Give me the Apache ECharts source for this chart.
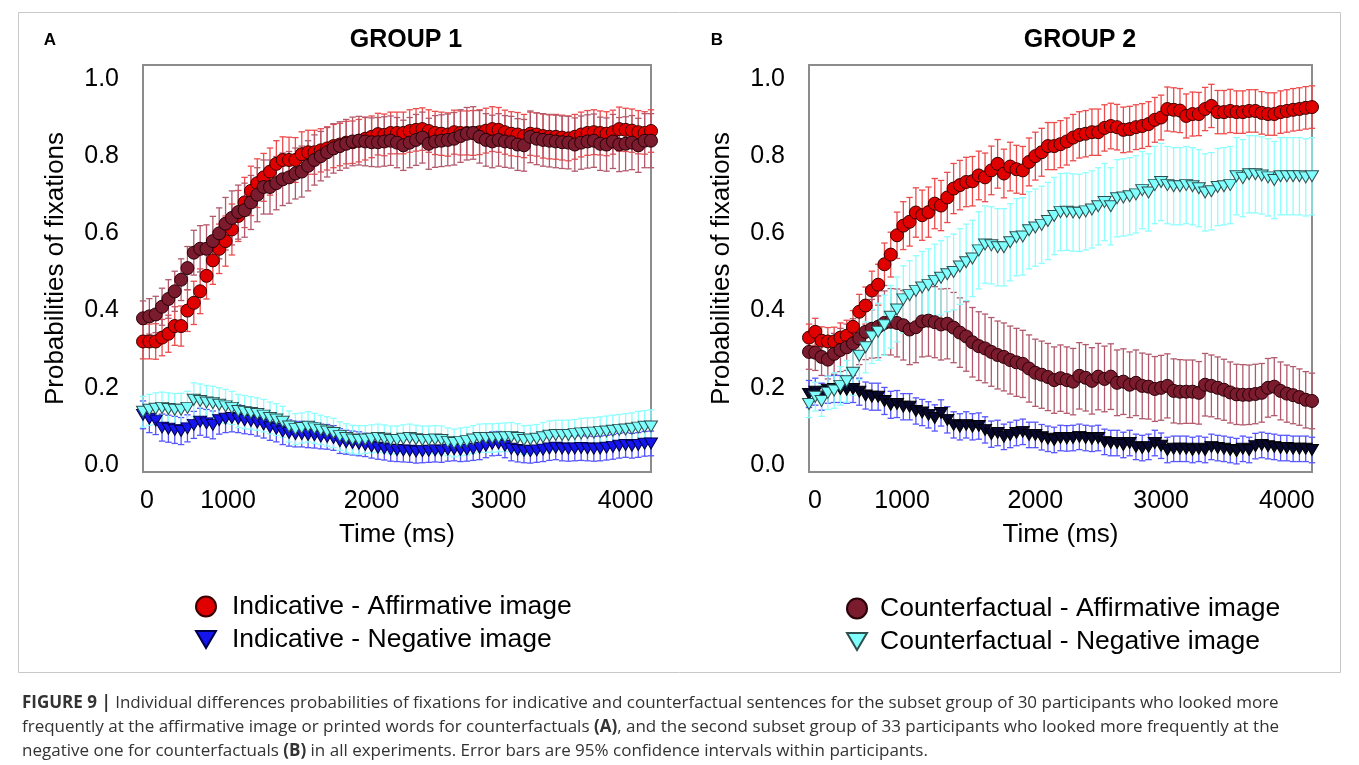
<!DOCTYPE html>
<html><head><meta charset="utf-8">
<script src="https://cdn.jsdelivr.net/npm/echarts@6/dist/echarts.min.js"></script>
<style>html,body{margin:0;padding:0;background:#fff}#c{width:1359px;height:765px}</style>
</head><body><div id="c"></div>
<script>
const times = [200,250,300,350,400,450,500,550,600,650,700,750,800,850,900,950,1000,1050,1100,1150,1200,1250,1300,1350,1400,1450,1500,1550,1600,1650,1700,1750,1800,1850,1900,1950,2000,2050,2100,2150,2200,2250,2300,2350,2400,2450,2500,2550,2600,2650,2700,2750,2800,2850,2900,2950,3000,3050,3100,3150,3200,3250,3300,3350,3400,3450,3500,3550,3600,3650,3700,3750,3800,3850,3900,3950,4000,4050,4100,4150,4200];
const xTickValues = [200, 1000, 2000, 3000, 4000];
const yTickValues = [0, 0.2, 0.4, 0.6, 0.8, 1.0];

// GROUP 1 (panel A)
const a_indAff = [0.32,0.32,0.32,0.33,0.34,0.36,0.36,0.40,0.42,0.45, 0.49,0.53,0.56,0.58,0.61,0.645,0.68,0.71,0.73,0.745, 0.76,0.78,0.79,0.79,0.79,0.805,0.81,0.81,0.815,0.82, 0.826,0.83,0.835,0.836,0.84,0.845,0.85,0.857,0.855,0.86, 0.86,0.86,0.865,0.868,0.87,0.865,0.86,0.858,0.856,0.862, 0.86,0.86,0.86,0.862,0.866,0.87,0.868,0.862,0.858,0.856, 0.852,0.858,0.856,0.852,0.85,0.85,0.848,0.846,0.85,0.856, 0.86,0.862,0.86,0.858,0.862,0.87,0.868,0.866,0.862,0.86,0.865];
const a_indAffErr = [0.045,0.045,0.046,0.047,0.048,0.05,0.052,0.054,0.056,0.058, 0.06,0.062,0.064,0.065,0.066,0.066,0.065,0.064,0.063,0.062, 0.061,0.06,0.06,0.059,0.058,0.058,0.057,0.057,0.056,0.056, 0.056,0.055,0.055,0.055,0.055,0.055,0.054,0.054,0.054,0.054, 0.054,0.054,0.055,0.055,0.055,0.055,0.056,0.056,0.056,0.057, 0.057,0.057,0.058,0.058,0.058,0.058,0.058,0.057,0.057,0.057, 0.056,0.056,0.056,0.057,0.057,0.058,0.058,0.058,0.058,0.058, 0.058,0.058,0.057,0.057,0.057,0.057,0.056,0.056,0.056,0.055,0.055];
const a_cfAff = [0.38,0.385,0.39,0.41,0.43,0.45,0.48,0.51,0.55,0.56, 0.56,0.58,0.60,0.625,0.64,0.655,0.66,0.68,0.70,0.72, 0.72,0.73,0.74,0.745,0.755,0.76,0.775,0.79,0.80,0.81, 0.82,0.826,0.832,0.838,0.84,0.838,0.836,0.836,0.838,0.84, 0.835,0.828,0.835,0.842,0.848,0.832,0.838,0.84,0.842,0.845, 0.852,0.858,0.86,0.85,0.842,0.838,0.842,0.838,0.836,0.83, 0.828,0.85,0.845,0.842,0.84,0.838,0.836,0.835,0.83,0.835, 0.838,0.84,0.832,0.83,0.838,0.83,0.832,0.835,0.828,0.84,0.84];
const a_cfAffErr = [0.045,0.046,0.047,0.048,0.05,0.052,0.054,0.056,0.058,0.06, 0.062,0.064,0.066,0.068,0.07,0.07,0.07,0.07,0.07,0.07, 0.07,0.069,0.068,0.067,0.066,0.066,0.065,0.065,0.064,0.064, 0.064,0.063,0.063,0.063,0.063,0.063,0.063,0.064,0.064,0.064, 0.065,0.065,0.065,0.066,0.066,0.066,0.067,0.067,0.067,0.068, 0.068,0.068,0.068,0.068,0.068,0.068,0.068,0.067,0.067,0.067, 0.067,0.067,0.067,0.068,0.068,0.068,0.068,0.068,0.069,0.069, 0.069,0.069,0.069,0.069,0.07,0.07,0.07,0.07,0.07,0.07,0.07];
const a_indNeg = [0.13,0.12,0.115,0.097,0.094,0.091,0.088,0.095,0.104,0.112, 0.108,0.104,0.116,0.12,0.122,0.12,0.116,0.114,0.11,0.105, 0.098,0.094,0.087,0.083,0.08,0.08,0.078,0.077,0.074,0.073, 0.07,0.062,0.059,0.057,0.055,0.052,0.048,0.045,0.043,0.04, 0.039,0.038,0.037,0.035,0.036,0.037,0.038,0.037,0.04,0.041, 0.039,0.04,0.042,0.045,0.05,0.055,0.056,0.05,0.042,0.039, 0.037,0.036,0.038,0.04,0.043,0.045,0.043,0.042,0.043,0.044, 0.043,0.042,0.043,0.045,0.047,0.05,0.052,0.05,0.052,0.055,0.056];
const a_indNegErr = [0.036,0.036,0.036,0.035,0.035,0.035,0.035,0.035,0.035,0.035, 0.036,0.036,0.036,0.036,0.036,0.036,0.035,0.035,0.035,0.035, 0.034,0.034,0.034,0.034,0.033,0.033,0.033,0.033,0.032,0.032, 0.032,0.032,0.031,0.031,0.031,0.03,0.03,0.03,0.03,0.03, 0.03,0.03,0.03,0.03,0.03,0.03,0.03,0.03,0.03,0.03, 0.03,0.03,0.03,0.031,0.031,0.031,0.031,0.031,0.031,0.031, 0.031,0.031,0.031,0.031,0.031,0.031,0.032,0.032,0.032,0.032, 0.032,0.032,0.032,0.032,0.032,0.032,0.032,0.032,0.032,0.032,0.032];
const a_cfNeg = [0.138,0.143,0.146,0.148,0.145,0.143,0.143,0.148,0.169,0.166, 0.162,0.16,0.156,0.152,0.148,0.14,0.137,0.135,0.132,0.128, 0.122,0.118,0.112,0.1,0.093,0.096,0.099,0.095,0.091,0.087, 0.083,0.075,0.07,0.066,0.065,0.066,0.068,0.07,0.068,0.065, 0.065,0.068,0.07,0.067,0.065,0.065,0.066,0.065,0.06,0.057, 0.06,0.062,0.066,0.07,0.07,0.07,0.071,0.072,0.073,0.07, 0.065,0.066,0.068,0.072,0.076,0.078,0.078,0.078,0.08,0.082, 0.083,0.084,0.086,0.087,0.089,0.091,0.092,0.094,0.097,0.099,0.10];
const a_cfNegErr = [0.04,0.04,0.041,0.041,0.042,0.042,0.043,0.043,0.044,0.044, 0.044,0.044,0.044,0.044,0.043,0.043,0.043,0.042,0.042,0.042, 0.041,0.041,0.04,0.04,0.04,0.039,0.039,0.039,0.038,0.038, 0.038,0.037,0.037,0.037,0.037,0.036,0.036,0.036,0.036,0.036, 0.036,0.036,0.036,0.036,0.036,0.036,0.036,0.036,0.036,0.036, 0.036,0.036,0.036,0.036,0.037,0.037,0.037,0.037,0.037,0.037, 0.037,0.037,0.037,0.038,0.038,0.038,0.038,0.038,0.038,0.039, 0.039,0.039,0.039,0.04,0.04,0.04,0.041,0.041,0.042,0.042,0.043];

// GROUP 2 (panel B)
const b_indAff = [0.33,0.345,0.322,0.32,0.32,0.33,0.335,0.358,0.397,0.413, 0.452,0.467,0.52,0.545,0.595,0.62,0.63,0.654,0.647,0.655, 0.677,0.672,0.693,0.716,0.725,0.733,0.735,0.75,0.745,0.763, 0.78,0.755,0.773,0.766,0.763,0.785,0.80,0.81,0.826,0.826, 0.831,0.838,0.848,0.855,0.858,0.862,0.862,0.873,0.878,0.875, 0.868,0.87,0.875,0.878,0.883,0.894,0.90,0.922,0.92,0.918, 0.904,0.909,0.909,0.922,0.93,0.914,0.914,0.917,0.914,0.914, 0.917,0.917,0.912,0.909,0.909,0.914,0.917,0.92,0.922,0.925,0.927];
const b_indAffErr = [0.035,0.035,0.036,0.036,0.037,0.038,0.04,0.042,0.045,0.048, 0.05,0.053,0.055,0.058,0.06,0.062,0.063,0.064,0.065,0.065, 0.065,0.065,0.065,0.065,0.064,0.064,0.064,0.063,0.063,0.063, 0.063,0.063,0.063,0.062,0.062,0.062,0.062,0.062,0.061,0.061, 0.061,0.061,0.06,0.06,0.06,0.06,0.06,0.06,0.059,0.059, 0.059,0.059,0.058,0.058,0.058,0.058,0.058,0.057,0.057,0.057, 0.057,0.057,0.056,0.056,0.056,0.056,0.056,0.056,0.055,0.055, 0.055,0.055,0.055,0.055,0.055,0.055,0.055,0.055,0.055,0.055,0.055];
const b_cfAff = [0.293,0.291,0.28,0.273,0.288,0.298,0.305,0.315,0.328,0.345, 0.353,0.358,0.368,0.371,0.368,0.362,0.351,0.357,0.372,0.374, 0.37,0.364,0.366,0.356,0.343,0.333,0.318,0.308,0.302,0.293, 0.285,0.28,0.272,0.266,0.262,0.25,0.239,0.234,0.228,0.22, 0.225,0.22,0.216,0.231,0.226,0.218,0.229,0.223,0.229,0.213, 0.216,0.208,0.213,0.205,0.203,0.197,0.2,0.205,0.192,0.19, 0.19,0.19,0.187,0.208,0.205,0.2,0.195,0.188,0.183,0.182, 0.182,0.184,0.187,0.2,0.203,0.192,0.185,0.181,0.176,0.169,0.166];
const b_cfAffErr = [0.045,0.046,0.048,0.05,0.053,0.056,0.06,0.064,0.068,0.072, 0.076,0.08,0.083,0.086,0.088,0.09,0.091,0.092,0.092,0.092, 0.092,0.092,0.091,0.091,0.09,0.09,0.09,0.089,0.089,0.089, 0.088,0.088,0.088,0.088,0.087,0.087,0.087,0.087,0.087,0.086, 0.086,0.086,0.086,0.086,0.086,0.086,0.086,0.085,0.085,0.085, 0.085,0.085,0.085,0.085,0.084,0.084,0.084,0.083,0.083,0.083, 0.082,0.082,0.081,0.081,0.08,0.08,0.079,0.079,0.078,0.078, 0.077,0.077,0.076,0.076,0.075,0.075,0.074,0.074,0.073,0.073,0.072];
const b_indNeg = [0.184,0.19,0.177,0.195,0.197,0.197,0.195,0.197,0.19,0.18, 0.177,0.177,0.166,0.156,0.158,0.151,0.151,0.14,0.136,0.13, 0.122,0.135,0.117,0.104,0.099,0.104,0.099,0.101,0.091,0.08, 0.083,0.073,0.078,0.083,0.086,0.078,0.078,0.072,0.068,0.065, 0.07,0.069,0.07,0.073,0.07,0.068,0.07,0.06,0.057,0.057, 0.052,0.057,0.047,0.044,0.047,0.057,0.05,0.039,0.042,0.042, 0.042,0.039,0.042,0.039,0.047,0.044,0.042,0.039,0.036,0.042, 0.039,0.049,0.052,0.049,0.047,0.044,0.044,0.042,0.042,0.042,0.039];
const b_indNegErr = [0.035,0.035,0.035,0.035,0.035,0.035,0.035,0.035,0.035,0.035, 0.035,0.035,0.035,0.035,0.035,0.034,0.034,0.034,0.034,0.034, 0.034,0.034,0.034,0.034,0.034,0.034,0.034,0.034,0.034,0.034, 0.033,0.033,0.033,0.033,0.033,0.033,0.033,0.033,0.033,0.033, 0.033,0.033,0.033,0.033,0.033,0.033,0.033,0.033,0.033,0.033, 0.033,0.033,0.033,0.033,0.033,0.033,0.033,0.033,0.033,0.033, 0.033,0.033,0.033,0.033,0.033,0.033,0.033,0.033,0.033,0.033, 0.033,0.033,0.033,0.033,0.033,0.033,0.033,0.033,0.033,0.033,0.033];
const b_cfNeg = [0.158,0.177,0.166,0.187,0.193,0.205,0.217,0.239,0.283,0.305, 0.333,0.345,0.362,0.384,0.403,0.429,0.44,0.451,0.46,0.466, 0.477,0.485,0.494,0.5,0.514,0.525,0.535,0.556,0.571,0.569, 0.564,0.564,0.577,0.59,0.592,0.608,0.615,0.622,0.632,0.645, 0.655,0.656,0.654,0.653,0.657,0.662,0.67,0.681,0.67,0.691, 0.693,0.696,0.701,0.712,0.706,0.725,0.733,0.725,0.722,0.722, 0.725,0.722,0.717,0.706,0.709,0.72,0.722,0.725,0.748,0.743, 0.753,0.753,0.75,0.745,0.738,0.748,0.748,0.748,0.748,0.745,0.748];
const b_cfNegErr = [0.035,0.037,0.04,0.043,0.046,0.05,0.054,0.058,0.062,0.066, 0.07,0.074,0.078,0.081,0.084,0.087,0.089,0.091,0.093,0.094, 0.095,0.096,0.097,0.098,0.098,0.099,0.099,0.1,0.1,0.1, 0.1,0.1,0.1,0.1,0.1,0.1,0.1,0.1,0.1,0.1, 0.1,0.1,0.1,0.1,0.1,0.1,0.1,0.1,0.1,0.1, 0.1,0.1,0.1,0.1,0.1,0.1,0.1,0.1,0.1,0.1, 0.1,0.1,0.1,0.1,0.1,0.1,0.1,0.1,0.1,0.1, 0.1,0.1,0.1,0.1,0.1,0.1,0.1,0.1,0.1,0.1,0.1];

const NAMES = {
  indAff: 'Indicative - Affirmative image',
  indNeg: 'Indicative - Negative image',
  cfAff: 'Counterfactual - Affirmative image',
  cfNeg: 'Counterfactual - Negative image'
};
const FONT = "'Liberation Sans', Arial, Helvetica, sans-serif";
const CAPFONT = "'Open Sans', 'Liberation Sans', Arial, sans-serif";
const DOWN_TRI = 'path://M0,0 L20,0 L10,17 Z';

const chart = echarts.init(document.getElementById('c'), null, {renderer: 'canvas'});

function pts(vals) { return times.map((t, i) => [t, vals[i]]); }
function errData(vals, errs) { return times.map((t, i) => [t, vals[i] - errs[i], vals[i] + errs[i]]); }

function errSeries(idx, vals, errs, color) {
  return {
    type: 'custom', xAxisIndex: idx, yAxisIndex: idx, z: 1, silent: true,
    data: errData(vals, errs),
    encode: {x: 0, y: [1, 2]},
    renderItem: function (params, api) {
      const x = api.value(0);
      const lo = api.coord([x, api.value(1)]);
      const hi = api.coord([x, api.value(2)]);
      const h = 3.2;
      const st = {stroke: color, lineWidth: 1.3};
      return {type: 'group', children: [
        {type: 'line', shape: {x1: lo[0], y1: lo[1], x2: hi[0], y2: hi[1]}, style: st},
        {type: 'line', shape: {x1: lo[0] - h, y1: lo[1], x2: lo[0] + h, y2: lo[1]}, style: st},
        {type: 'line', shape: {x1: hi[0] - h, y1: hi[1], x2: hi[0] + h, y2: hi[1]}, style: st}
      ]};
    }
  };
}
function markSeries(idx, name, vals, kind, fill, border) {
  const tri = kind === 'tri';
  return {
    type: 'scatter', name: name, xAxisIndex: idx, yAxisIndex: idx, z: 3, clip: false,
    data: pts(vals),
    symbol: tri ? 'triangle' : 'circle',
    symbolRotate: tri ? 180 : 0,
    symbolSize: tri ? [13, 11] : 13,
    itemStyle: {color: fill, borderColor: border, borderWidth: 1, opacity: 1},
    emphasis: {disabled: true}
  };
}

function xAxisCfg(idx, pad0, pad1000) {
  return {
    type: 'value', gridIndex: idx, min: 200, max: 4200,
    axisLine: {show: false}, axisTick: {show: false}, splitLine: {show: false},
    name: 'Time (ms)', nameLocation: 'middle', nameGap: 50,
    nameTextStyle: {fontFamily: FONT, fontSize: 26, color: '#000'},
    axisLabel: {
      customValues: xTickValues, margin: 17, fontFamily: FONT, fontSize: 25, color: '#000',
      showMinLabel: true, showMaxLabel: true, hideOverlap: false,
      formatter: function (v) {
        if (v === 200) return '{a|0}';
        if (v === 1000) return '{b|1000}';
        return String(v);
      },
      rich: {
        a: {fontFamily: FONT, fontSize: 25, color: '#000', padding: [0, 0, 0, pad0]},
        b: {fontFamily: FONT, fontSize: 25, color: '#000', padding: [0, pad1000, 0, 0]}
      }
    }
  };
}
function yAxisCfg(idx) {
  return {
    type: 'value', gridIndex: idx, min: -0.018, max: 1.036,
    axisLine: {show: false}, axisTick: {show: false}, splitLine: {show: false},
    name: 'Probabilities of fixations', nameLocation: 'middle', nameGap: 74, nameRotate: 90,
    nameTextStyle: {fontFamily: FONT, fontSize: 26, color: '#000'},
    axisLabel: {
      customValues: yTickValues, margin: 24, fontFamily: FONT, fontSize: 25, color: '#000',
      showMinLabel: true, showMaxLabel: true,
      formatter: function (v) { return v.toFixed(1); }
    }
  };
}

const legendCommon = {
  orient: 'vertical', itemWidth: 20, itemHeight: 20, itemGap: 6, selectedMode: false,
  textStyle: {fontFamily: FONT, fontSize: 26.5, color: '#000', lineHeight: 26}
};

const option = {
  backgroundColor: '#fff',
  animation: false,
  grid: [
    {left: 143, top: 65, width: 508, height: 407, show: true, borderColor: '#8c8c8c', borderWidth: 2, backgroundColor: 'transparent', containLabel: false},
    {left: 809, top: 65, width: 503, height: 407, show: true, borderColor: '#8c8c8c', borderWidth: 2, backgroundColor: 'transparent', containLabel: false}
  ],
  xAxis: [xAxisCfg(0, 8, 33), xAxisCfg(1, 12, 15)],
  yAxis: [yAxisCfg(0), yAxisCfg(1)],
  legend: [
    Object.assign({}, legendCommon, {left: 190, top: 588,
      data: [{name: NAMES.indAff, icon: 'circle'}, {name: NAMES.indNeg, icon: DOWN_TRI}],
      textStyle: Object.assign({}, legendCommon.textStyle, {padding: [0, 0, 0, 11]})}),
    Object.assign({}, legendCommon, {left: 841, top: 590,
      data: [{name: NAMES.cfAff, icon: 'circle'}, {name: NAMES.cfNeg, icon: DOWN_TRI}],
      textStyle: Object.assign({}, legendCommon.textStyle, {padding: [0, 0, 0, 8]})})
  ],
  graphic: [
    {type: 'rect', silent: true, shape: {x: 18.5, y: 12.5, width: 1322, height: 660}, style: {fill: 'none', stroke: '#c8c8c8', lineWidth: 1}},
    {type: 'text', x: 50, y: 40, style: {text: 'A', font: 'bold 17px ' + FONT, fill: '#000', textAlign: 'center', textVerticalAlign: 'middle'}},
    {type: 'text', x: 717, y: 40, style: {text: 'B', font: 'bold 17px ' + FONT, fill: '#000', textAlign: 'center', textVerticalAlign: 'middle'}},
    {type: 'text', x: 406, y: 40, style: {text: 'GROUP 1', font: 'bold 25px ' + FONT, fill: '#000', textAlign: 'center', textVerticalAlign: 'middle'}},
    {type: 'text', x: 1080, y: 40, style: {text: 'GROUP 2', font: 'bold 25px ' + FONT, fill: '#000', textAlign: 'center', textVerticalAlign: 'middle'}},
    {type: 'text', x: 22, y: 703, style: {
      text: '{b|FIGURE 9 |} Individual differences probabilities of fixations for indicative and counterfactual sentences for the subset group of 30 participants who looked more',
      textVerticalAlign: 'middle',
      rich: {b: {font: 'bold 17px ' + CAPFONT, fill: '#333'}},
      font: '17px ' + CAPFONT, fill: '#333'}},
    {type: 'text', x: 22, y: 727, style: {
      text: 'frequently at the affirmative image or printed words for counterfactuals {b|(A)}, and the second subset group of 33 participants who looked more frequently at the',
      textVerticalAlign: 'middle',
      rich: {b: {font: 'bold 17px ' + CAPFONT, fill: '#333'}},
      font: '17px ' + CAPFONT, fill: '#333'}},
    {type: 'text', x: 22, y: 751, style: {
      text: 'negative one for counterfactuals {b|(B)} in all experiments. Error bars are 95% confidence intervals within participants.',
      textVerticalAlign: 'middle',
      rich: {b: {font: 'bold 17px ' + CAPFONT, fill: '#333'}},
      font: '17px ' + CAPFONT, fill: '#333'}}
  ],
  series: [
    errSeries(0, a_indAff, a_indAffErr, '#ee4a4a'),
    errSeries(0, a_cfAff, a_cfAffErr, '#b25a6c'),
    errSeries(0, a_indNeg, a_indNegErr, '#5555ff'),
    errSeries(0, a_cfNeg, a_cfNegErr, '#8cffff'),
    markSeries(0, NAMES.indAff, a_indAff, 'circ', '#e00000', '#3a0000'),
    markSeries(0, NAMES.cfAff, a_cfAff, 'circ', '#7a1b2e', '#2a0008'),
    markSeries(0, NAMES.indNeg, a_indNeg, 'tri', '#1515ee', '#00004a'),
    markSeries(0, NAMES.cfNeg, a_cfNeg, 'tri', '#80ffff', '#2f4f4f'),

    errSeries(1, b_indAff, b_indAffErr, '#ee4a4a'),
    errSeries(1, b_cfAff, b_cfAffErr, '#b25a6c'),
    errSeries(1, b_indNeg, b_indNegErr, '#5555ff'),
    errSeries(1, b_cfNeg, b_cfNegErr, '#8cffff'),
    markSeries(1, NAMES.indAff, b_indAff, 'circ', '#e00000', '#3a0000'),
    markSeries(1, NAMES.cfAff, b_cfAff, 'circ', '#7a1b2e', '#2a0008'),
    markSeries(1, NAMES.indNeg, b_indNeg, 'tri', '#08082e', '#000000'),
    markSeries(1, NAMES.cfNeg, b_cfNeg, 'tri', '#80ffff', '#2f4f4f')
  ]
};
chart.setOption(option);
</script></body></html>
